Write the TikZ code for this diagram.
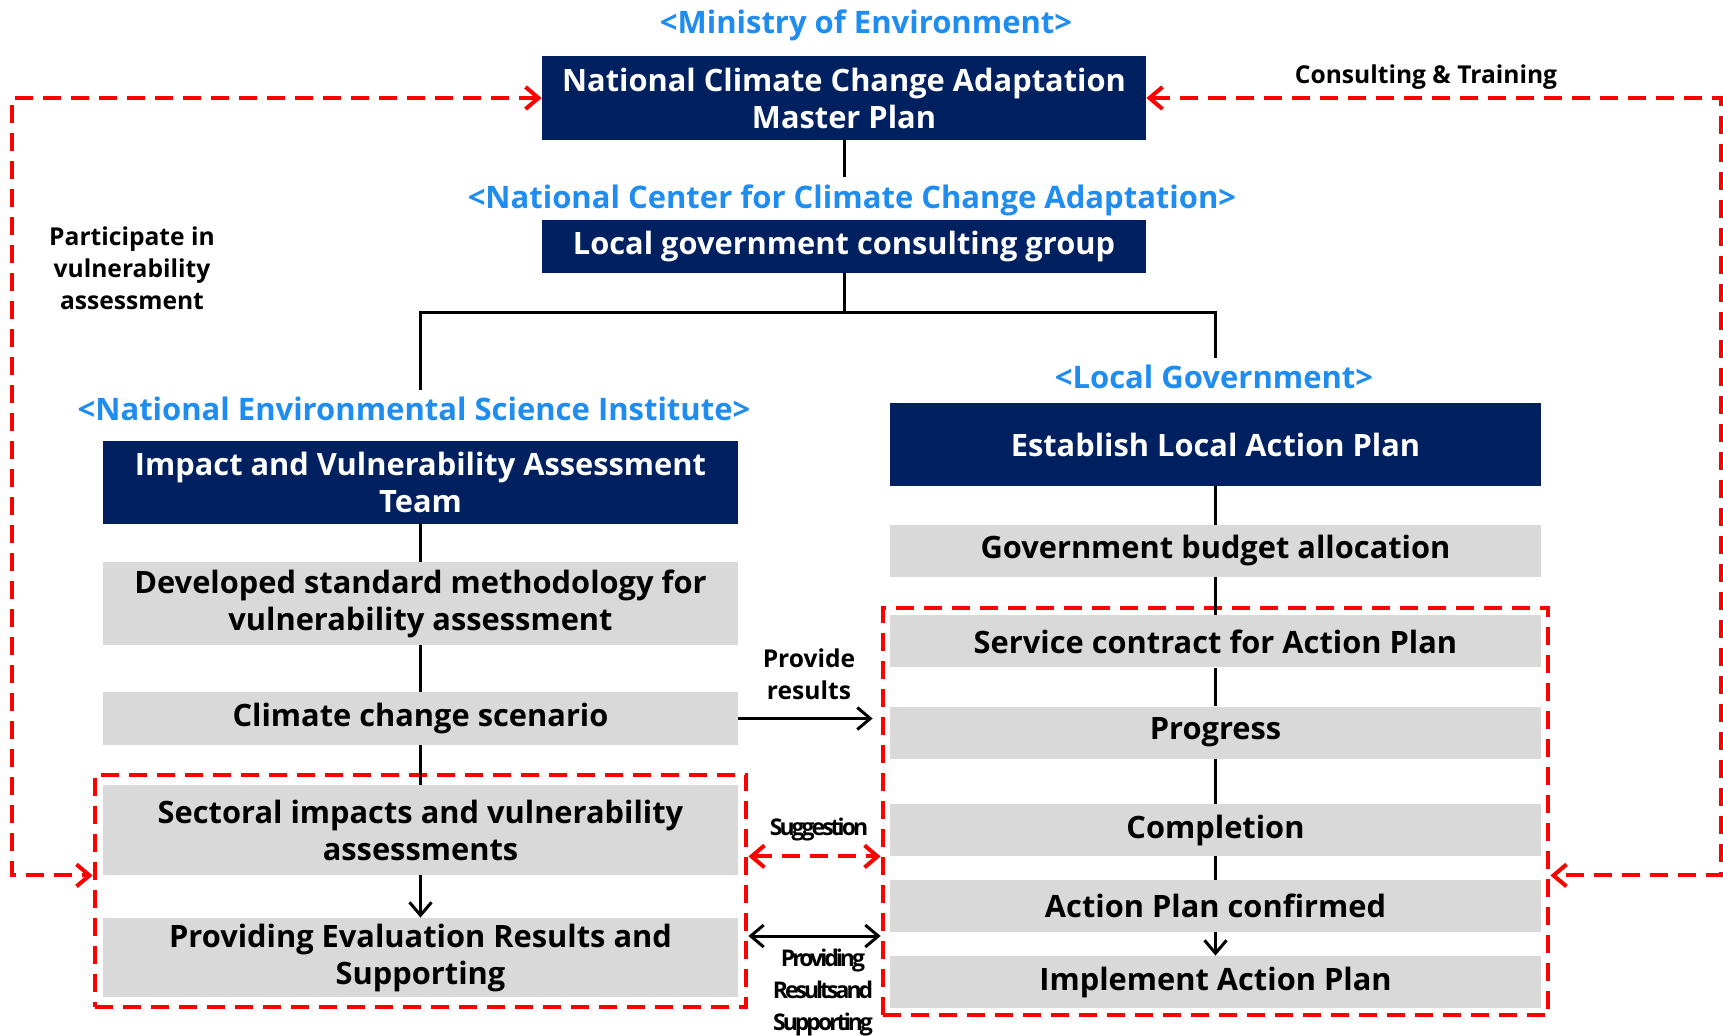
\documentclass[tikz,border=0pt]{standalone}
\usepackage{fontspec}
\setmainfont{Open Sans}
\usetikzlibrary{arrows.meta}
\usetikzlibrary{fit}
\definecolor{navy}{RGB}{0,32,96}
\definecolor{boxgray}{RGB}{217,217,217}
\definecolor{orgblue}{RGB}{31,140,239}

\begin{document}
\begin{tikzpicture}[x=0.5pt, y=-0.5pt,
  >={Straight Barb[length=6.5pt, width=11pt]},
  navybox/.style={fill=navy, text=white, font=\bfseries\fontsize{15.4}{18.5}\selectfont, align=center, inner sep=0pt},
  graybox/.style={fill=boxgray, font=\bfseries\fontsize{15.4}{18.5}\selectfont, align=center, inner sep=0pt},
  orglabel/.style={text=orgblue, font=\bfseries\fontsize{15.5}{17}\selectfont},
  sidelabel/.style={font=\bfseries\fontsize{12.3}{16}\selectfont, align=center},
  squeezed/.style={font=\bfseries\fontsize{11.5}{16}\selectfont\addfontfeature{LetterSpace=-13}},
  link/.style={line width=1.5pt},
  reddash/.style={draw=red, line width=2pt, dash pattern=on 9pt off 5pt}]
\useasboundingbox (0,0) rectangle (1723,1036);

% ministry / national center
\node[orglabel] (ministry) at (866,25) {<Ministry of Environment>};
\node[navybox, minimum width=302pt, minimum height=42pt] (master) at (844,98)
  {National Climate Change Adaptation\\Master Plan};
\node[orglabel] (center) at (852,200) {<National Center for Climate Change Adaptation>};
\node[navybox, minimum width=302pt, minimum height=26.5pt] (consult) at (844,246.5)
  {Local government consulting group};
\coordinate (jn) at (844,313);

% left column
\node[orglabel] (nesi) at (414,409) {<National Environmental Science Institute>};
\node[navybox, minimum width=317.5pt, minimum height=41.5pt] (impact) at (420.5,482.5)
  {Impact and Vulnerability Assessment\\Team};
\node[graybox, minimum width=317.5pt, minimum height=41.5pt] (method) at (420.5,603.5)
  {Developed standard methodology for\\vulnerability assessment};
\node[graybox, minimum width=317.5pt, minimum height=26.5pt] (scenario) at (420.5,718.5)
  {Climate change scenario};
\node[graybox, minimum width=317.5pt, minimum height=45pt] (sectoral) at (420.5,830)
  {Sectoral impacts and vulnerability\\assessments};
\node[graybox, minimum width=317.5pt, minimum height=39.5pt] (evalres) at (420.5,957.5)
  {Providing Evaluation Results and\\Supporting};
\node[reddash, fit=(sectoral)(evalres), inner xsep=4pt, inner ysep=5pt] (leftgrp) {};

% right column
\node[orglabel] (lgov) at (1214,377) {<Local Government>};
\node[navybox, minimum width=325.5pt, minimum height=41.5pt] (establish) at (1215.5,444.5)
  {Establish Local Action Plan};
\node[graybox, minimum width=325.5pt, minimum height=26pt] (budget) at (1215.5,551)
  {Government budget allocation};
\node[graybox, minimum width=325.5pt, minimum height=26pt] (service) at (1215.5,641.5)
  {Service contract for Action Plan};
\node[graybox, minimum width=325.5pt, minimum height=26pt] (progress) at (1215.5,732.5)
  {Progress};
\node[graybox, minimum width=325.5pt, minimum height=26pt] (completion) at (1215.5,830)
  {Completion};
\node[graybox, minimum width=325.5pt, minimum height=26pt] (confirmed) at (1215.5,906)
  {Action Plan confirmed};
\node[graybox, minimum width=325.5pt, minimum height=26pt] (implement) at (1215.5,982)
  {Implement Action Plan};
\node[reddash, fit=(service)(implement), inner xsep=3.5pt, inner ysep=3.5pt] (rightgrp) {};

% side labels
\node[sidelabel] (participate) at (132,268) {Participate in\\vulnerability\\assessment};
\node[sidelabel] (consulttrain) at (1426,77) {Consulting \& Training};
\node[sidelabel] (provide) at (809,674) {Provide\\results};
\node[sidelabel, squeezed] (suggest) at (819,830) {Suggestion};
\node[sidelabel, squeezed] (provsupp) at (823,993) {Providing\\Resultsand\\Supporting};
\coordinate (supp) at (816,936);
\coordinate (lout) at (12,500);
\coordinate (rout) at (1721,500);

% tree links
\draw[link] (master.south) -- (master.south |- center.north);
\draw[link] (consult.south) -- (jn);
\draw[link] (impact.north |- nesi.north) |- (jn) -| (establish.north |- lgov.north);
\draw[link] (impact) -- (method);
\draw[link] (method) -- (scenario);
\draw[link] (scenario) -- (sectoral);
\draw[link, ->] (sectoral) -- (evalres);
\draw[link] (establish) -- (budget);
\draw[link] (budget) -- (service);
\draw[link] (service) -- (progress);
\draw[link] (progress) -- (completion);
\draw[link] (completion) -- (confirmed);
\draw[link, ->] (confirmed) -- (implement);

% exchanges between groups
\draw[link, ->, shorten >=4pt] (scenario.east) -- (scenario.east -| rightgrp.west);
\draw[reddash, <->] (leftgrp.east |- completion.south) -- (rightgrp.west |- completion.south);
\draw[link, <->] (leftgrp.east |- supp) -- (rightgrp.west |- supp);
\draw[reddash, <->] (master.west) -| (lout) |- (leftgrp.west |- sectoral.south);
\draw[reddash, <->] (master.east) -| (rout) |- (rightgrp.east |- sectoral.south);
\end{tikzpicture}
\end{document}
